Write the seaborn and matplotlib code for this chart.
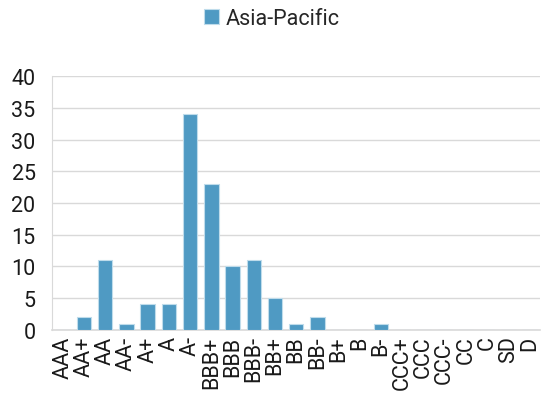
import pandas as pd
import matplotlib
matplotlib.use("Agg")
import matplotlib.pyplot as plt
import seaborn as sns

# Datos
ratings = ["AAA", "AA+", "AA", "AA-", "A+", "A", "A-", "BBB+", "BBB", "BBB-",
           "BB+", "BB", "BB-", "B+", "B", "B-", "CCC+", "CCC", "CCC-", "CC",
           "C", "SD", "D"]
asia_pacific = [0, 2, 11, 1, 4, 4, 34, 23, 10, 11, 5, 1, 2, 0, 0, 1, 0, 0, 0, 0, 0, 0, 0]

df = pd.DataFrame({"rating": ratings, "count": asia_pacific, "region": "Asia-Pacific"})

sns.set_style("white")
plt.rcParams["font.family"] = ["Roboto", "DejaVu Sans"]

fig = plt.figure(figsize=(5.44, 4.02), dpi=100)
ax = fig.add_axes([0.096, 0.177, 0.897, 0.631])

sns.barplot(data=df, x="rating", y="count", hue="region", palette=["#4F9AC3"],
            saturation=1, width=0.68, edgecolor="#BFDCEB", linewidth=0.8,
            ax=ax, zorder=3)

ax.set_ylim(0, 40)
ax.set_yticks(range(0, 41, 5))
ax.set_xlim(-0.5, len(ratings) - 0.5)
ax.yaxis.grid(True, color="#D9D9D9", linewidth=1, zorder=0)
ax.set_xlabel("")
ax.set_ylabel("")
ax.tick_params(axis="y", labelsize=15.5, length=0, pad=12, colors="#1a1a1a")
ax.tick_params(axis="x", labelsize=15.5, length=0, pad=4, rotation=90, colors="#1a1a1a")
for s in ["top", "right"]:
    ax.spines[s].set_visible(False)
ax.spines["left"].set_color("#D9D9D9")
ax.spines["bottom"].set_color("#D9D9D9")
ax.spines["bottom"].set_linewidth(1.2)

ax.legend(loc="upper center", bbox_to_anchor=(0.45, 1.345), frameon=False,
          fontsize=15.5, handlelength=0.7, handleheight=0.7, handletextpad=0.3)

fig.savefig("out.png", dpi=100)
